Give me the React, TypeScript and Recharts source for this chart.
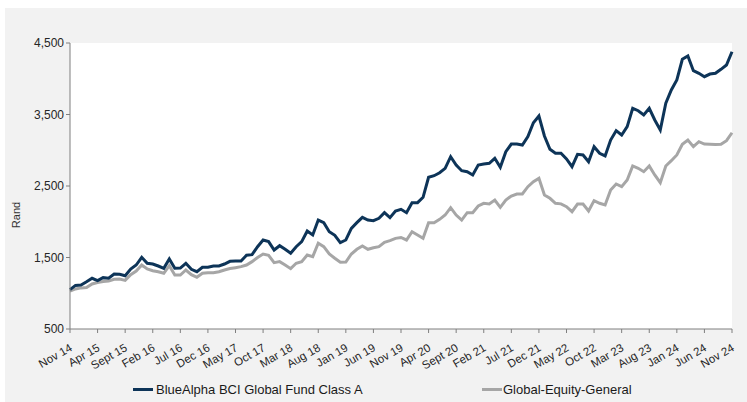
import { LineChart, Line, XAxis, YAxis, CartesianGrid } from "recharts";

const monthNames = ["Jan", "Feb", "Mar", "Apr", "May", "Jun", "Jul", "Aug", "Sept", "Oct", "Nov", "Dec"];

// monthly categories, Nov 14 .. Nov 24
const months: string[] = [];
for (let i = 0; i <= 120; i++) {
  const m = (10 + i) % 12;
  const yr = 14 + Math.floor((10 + i) / 12);
  months.push(`${monthNames[m]} ${yr}`);
}

const blueAlpha = [
  1050, 1110, 1115, 1160, 1209, 1176, 1218, 1209, 1269, 1265,
  1245, 1339, 1395, 1503, 1419, 1409, 1381, 1349, 1479, 1349,
  1352, 1419, 1335, 1302, 1363, 1363, 1381, 1381, 1409, 1447,
  1451, 1451, 1531, 1540, 1651, 1745, 1722, 1605, 1665, 1615,
  1559, 1651, 1722, 1871, 1815, 2024, 1987, 1861, 1810, 1707,
  1745, 1908, 1987, 2062, 2024, 2015, 2048, 2127, 2057, 2150,
  2174, 2127, 2267, 2267, 2342, 2622, 2644, 2686, 2747, 2910,
  2794, 2714, 2700, 2654, 2794, 2808, 2817, 2887, 2761, 2980,
  3087, 3087, 3073, 3190, 3385, 3479, 3200, 3013, 2957, 2957,
  2878, 2770, 2943, 2934, 2840, 3050, 2957, 2920, 3143, 3274,
  3213, 3330, 3587, 3553, 3493, 3587, 3423, 3283, 3657, 3843,
  3983, 4272, 4318, 4113, 4076, 4029, 4066, 4076, 4132, 4192,
  4378,
];

const globalEquity = [
  1030, 1060, 1075, 1080, 1130, 1150, 1165, 1170, 1195, 1200,
  1180, 1260, 1310, 1395, 1340, 1315, 1300, 1279, 1386, 1255,
  1255, 1325, 1260, 1223, 1279, 1285, 1288, 1300, 1325, 1345,
  1358, 1372, 1395, 1442, 1500, 1549, 1530, 1428, 1442, 1395,
  1344, 1419, 1442, 1535, 1512, 1699, 1651, 1549, 1489, 1433,
  1437, 1549, 1615, 1661, 1615, 1637, 1651, 1712, 1735, 1768,
  1780, 1745, 1861, 1815, 1768, 1987, 1987, 2034, 2094, 2197,
  2094, 2024, 2127, 2127, 2220, 2258, 2250, 2304, 2202, 2304,
  2360, 2388, 2388, 2491, 2560, 2607, 2374, 2328, 2258, 2250,
  2211, 2141, 2248, 2248, 2150, 2295, 2258, 2234, 2444, 2528,
  2491, 2584, 2780, 2747, 2700, 2780, 2654, 2546, 2780, 2854,
  2934, 3083, 3143, 3050, 3120, 3087, 3083, 3080, 3083, 3134,
  3245,
];

const yTicks = [500, 1500, 2500, 3500, 4500];

const data = months.map((month, i) => ({
  month,
  fund: blueAlpha[i],
  sector: globalEquity[i],
}));

const XTick = ({ x, y, payload }: any) => {
  const tx = x + 3;
  const ty = y + 15;
  return (
    <text x={tx} y={ty} transform={`rotate(-30 ${tx} ${ty})`} textAnchor="end" fontSize={11.5} fill="#262626">
      {payload.value}
    </text>
  );
};

export default function App() {
  return (
    <div
      style={{
        position: "absolute",
        left: 0,
        top: 0,
        width: 747,
        height: 402,
        background: "#ffffff",
        fontFamily: "'Liberation Sans', Arial, sans-serif",
        overflow: "hidden",
      }}
    >
      <div style={{ position: "absolute", left: 5, top: 8, width: 742, height: 394, background: "#f2f2f2" }}>
        <LineChart width={742} height={394} data={data} margin={{ top: 35, right: 15, left: 0, bottom: 33 }}>
          <CartesianGrid fill="#ffffff" horizontal={false} vertical={false} />
          <XAxis
            dataKey="month"
            interval={4}
            height={40}
            tick={<XTick />}
            tickSize={4}
            stroke="#7f7f7f"
            tickLine={{ stroke: "#7f7f7f" }}
          />
          <YAxis
            width={65}
            domain={[500, 4500]}
            ticks={yTicks}
            tickSize={4}
            tickFormatter={(v) => v.toLocaleString("en-US")}
            tick={{ fontSize: 12, fill: "#262626" }}
            stroke="#7f7f7f"
            tickLine={{ stroke: "#7f7f7f" }}
          />
          <Line type="linear" dataKey="sector" stroke="#a6a6a6" strokeWidth={3} dot={false} isAnimationActive={false} />
          <Line type="linear" dataKey="fund" stroke="#0d3458" strokeWidth={3} dot={false} isAnimationActive={false} />
        </LineChart>
        <div
          style={{
            position: "absolute",
            left: 11,
            top: 207,
            transform: "translate(-50%, -50%) rotate(-90deg)",
            fontSize: 11,
            color: "#333",
          }}
        >
          Rand
        </div>
      </div>
      <div style={{ position: "absolute", left: 133, top: 382, display: "flex", alignItems: "center", fontSize: 13, color: "#1a1a1a" }}>
        <span style={{ display: "inline-block", width: 20, height: 3, background: "#0d3458", marginRight: 3 }} />
        BlueAlpha BCI Global Fund Class A
      </div>
      <div style={{ position: "absolute", left: 482, top: 382, display: "flex", alignItems: "center", fontSize: 13, color: "#1a1a1a" }}>
        <span style={{ display: "inline-block", width: 20, height: 3, background: "#a6a6a6", marginRight: 1 }} />
        Global-Equity-General
      </div>
    </div>
  );
}
